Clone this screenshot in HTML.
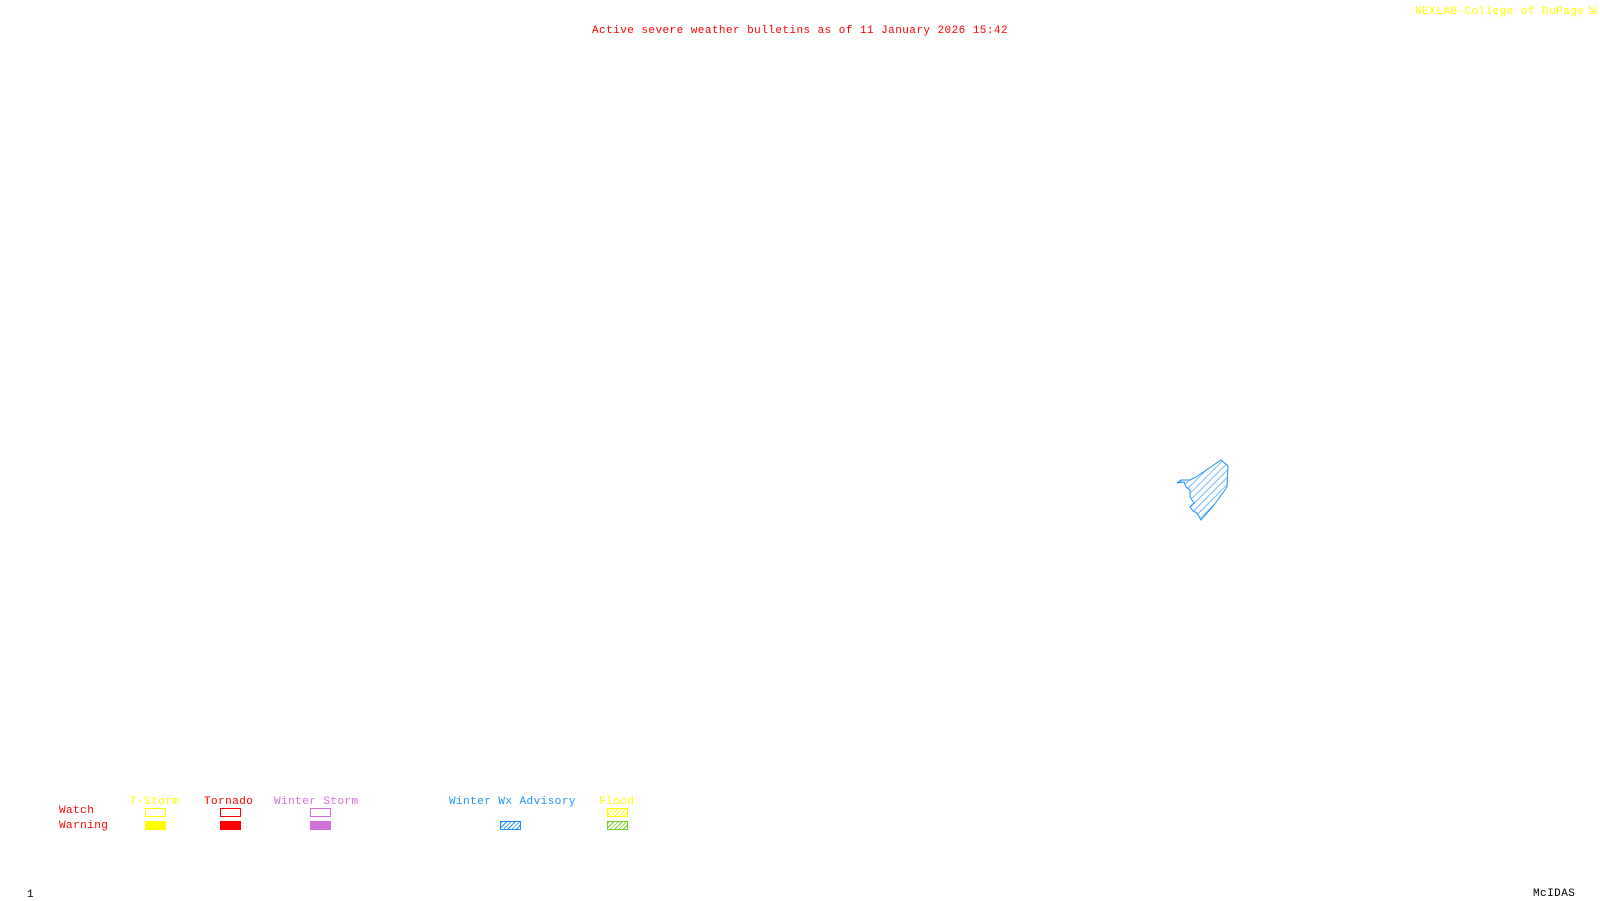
<!DOCTYPE html>
<html><head><style>
body{margin:0;width:1600px;height:900px;background:#fff;position:relative;overflow:hidden;font-family:"Liberation Mono",monospace;font-size:11px;letter-spacing:0.45px}
.t{position:absolute;white-space:pre;line-height:12px}
.b{position:absolute;width:21px;height:9px;box-sizing:border-box}
</style></head><body>
<div class="t" style="left:592px;top:25px;color:#f00">Active severe weather bulletins as of 11 January 2026 15:42</div>
<div class="t" style="left:1415px;top:6px;color:#ff0">NEXLAB-College of DuPage</div>
<div class="t" style="left:1587px;top:5px;color:#ff0;font-size:12px">&#8690;</div>
<div class="t" style="left:130px;top:796px;color:#ff0">T-Storm</div>
<div class="t" style="left:204px;top:796px;color:#f00">Tornado</div>
<div class="t" style="left:274px;top:796px;color:#d070d8">Winter Storm</div>
<div class="t" style="left:449px;top:796px;color:#1e90ff">Winter Wx Advisory</div>
<div class="t" style="left:599px;top:796px;color:#ff0">Flood</div>
<div class="t" style="left:59px;top:805px;color:#f00">Watch</div>
<div class="t" style="left:59px;top:820px;color:#f00">Warning</div>
<div class="b" style="left:145px;top:808px;border:1px solid #ff0"></div>
<div class="b" style="left:145px;top:821px;background:#ff0"></div>
<div class="b" style="left:220px;top:808px;border:1px solid #f00"></div>
<div class="b" style="left:220px;top:821px;background:#f00"></div>
<div class="b" style="left:310px;top:808px;border:1px solid #d070d8"></div>
<div class="b" style="left:310px;top:821px;background:#d070d8"></div>
<div class="b" style="left:500px;top:821px;border:1px solid #1e90ff;background:repeating-linear-gradient(-45deg,#fff 0 2px,#1e90ff 2px 3px)"></div>
<div class="b" style="left:607px;top:808px;border:1px solid #ff0;background:repeating-linear-gradient(-45deg,#fff 0 2px,#ff0 2px 3px)"></div>
<div class="b" style="left:607px;top:821px;border:1px solid #7c2;background:repeating-linear-gradient(-45deg,#fff 0 2px,#7c2 2px 3px)"></div>
<div class="t" style="left:27px;top:889px;color:#000">1</div>
<div class="t" style="left:1533px;top:888px;color:#000">McIDAS</div>
<svg style="position:absolute;left:0;top:0" width="1600" height="900">
<defs><pattern id="h" width="5" height="5" patternUnits="userSpaceOnUse" patternTransform="rotate(-45)"><line x1="0" y1="0" x2="5" y2="0" stroke="#1e90ff" stroke-width="1.2"/></pattern></defs>
<path d="M1221,460 L1228,466 L1227,487 L1214,505 L1201,520 L1197,513 L1193,511 L1190,507 L1194,503 L1190,497 L1190,490 L1186,487 L1184,482 L1177,483 L1181,480 L1190,480 L1196,477 Z" fill="url(#h)" stroke="#1e90ff" stroke-width="1"/>
</svg>
</body></html>
